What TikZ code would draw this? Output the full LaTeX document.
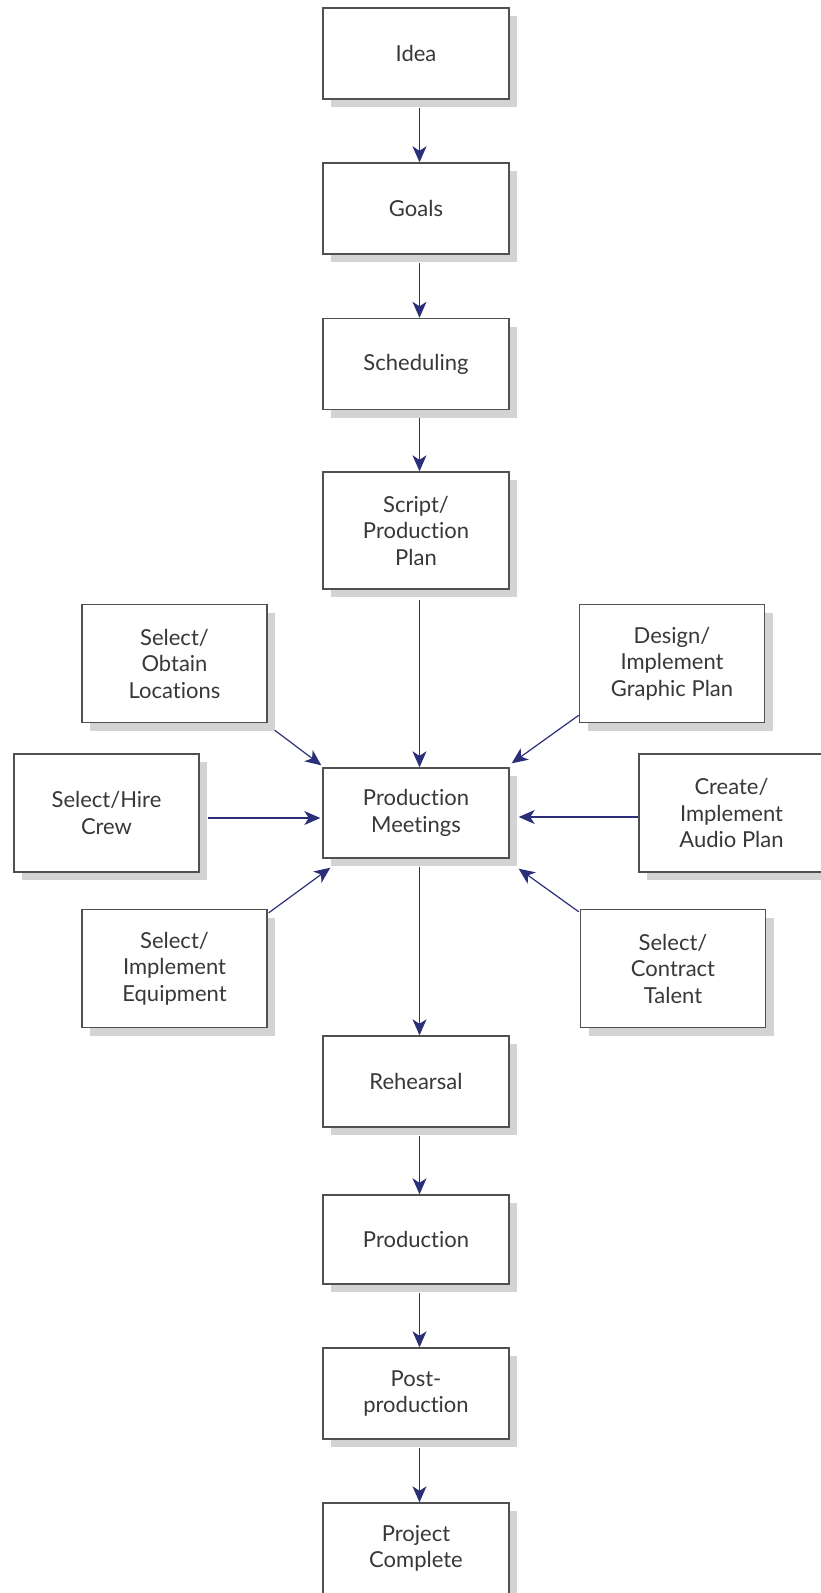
\documentclass[tikz,border=0pt]{standalone}
\usepackage{fontspec}
\setmainfont{Lato}[Ligatures={NoCommon,NoRequired,NoContextual}]
\usetikzlibrary{arrows.meta,shadows}
\definecolor{navy}{HTML}{2B2F78}
\definecolor{shadowgray}{HTML}{D3D3D3}
\definecolor{boxline}{HTML}{505050}
\definecolor{txt}{HTML}{383838}
\begin{document}
\begin{tikzpicture}[x=1pt,y=-1pt,
  box/.style={draw=boxline, line width=1.4pt, fill=white, align=center,
    font=\fontsize{22}{26.5}\selectfont, text=txt, inner sep=0pt,
    drop shadow={shadow xshift=8pt, shadow yshift=-8pt, fill=shadowgray, opacity=1}},
  mainbox/.style={box, minimum width=186pt, minimum height=91pt},
  sidebox/.style={box, minimum width=185pt, minimum height=118pt},
  arr/.style={draw=navy, line width=1.2pt, -{Stealth[length=16pt, width=14pt, inset=4.5pt]}, color=navy}]
\useasboundingbox (0,0) rectangle (820,1593);
% main column
\node[mainbox] (idea) at (416,53.5) {Idea};
\node[mainbox] (goals) at (416,208.5) {Goals};
\node[mainbox] (sched) at (416,364) {Scheduling};
\node[mainbox, minimum height=117pt] (script) at (416,530.5) {Script/\\Production\\Plan};
\node[mainbox, minimum height=90pt] (pm) at (416,813) {Production\\Meetings};
\node[mainbox] (reh) at (416,1081.5) {Rehearsal};
\node[mainbox, minimum height=89pt] (prod) at (416,1239.5) {Production};
\node[mainbox] (post) at (416,1393.5) {Post-\\production};
\node[mainbox] (done) at (416,1548.5) {Project\\Complete};
% side boxes
\node[sidebox] (loc) at (174.5,663.5) {Select/\\Obtain\\Locations};
\node[sidebox] (crew) at (106.5,813) {Select/Hire\\Crew};
\node[sidebox] (equip) at (174.5,968.5) {Select/\\Implement\\Equipment};
\node[sidebox] (graph) at (672,663.5) {Design/\\Implement\\Graphic Plan};
\node[sidebox] (audio) at (731.5,813) {Create/\\Implement\\Audio Plan};
\node[sidebox] (talent) at (673,968.5) {Select/\\Contract\\Talent};
% vertical arrows
\draw[arr] ([shift={(3.5,8)}]idea.south) -- ([xshift=3.5pt]goals.north);
\draw[arr] ([shift={(3.5,8)}]goals.south) -- ([xshift=3.5pt]sched.north);
\draw[arr] ([shift={(3.5,8)}]sched.south) -- ([xshift=3.5pt]script.north);
\draw[arr] ([shift={(3.5,10)}]script.south) -- ([xshift=3.5pt]pm.north);
\draw[arr] ([shift={(3.5,8)}]pm.south) -- ([xshift=3.5pt]reh.north);
\draw[arr] ([shift={(3.5,8)}]reh.south) -- ([xshift=3.5pt]prod.north);
\draw[arr] ([shift={(3.5,8)}]prod.south) -- ([xshift=3.5pt]post.north);
\draw[arr] ([shift={(3.5,8)}]post.south) -- ([xshift=3.5pt]done.north);
% side arrows
\draw[arr] ([shift={(7,7)}]loc.south east) -- ([shift={(-1,-2)}]pm.north west);
\draw[arr] ([shift={(8,5)}]crew.east) -- ([shift={(-2,5)}]pm.west);
\draw[arr] ([shift={(1,4)}]equip.north east) -- ([shift={(8,9)}]pm.south west);
\draw[arr] ([shift={(0,-8)}]graph.south west) -- ([shift={(2,-4)}]pm.north east);
\draw[arr] ([shift={(0,4)}]audio.west) -- ([shift={(9,4)}]pm.east);
\draw[arr] ([shift={(-1,3)}]talent.north west) -- ([shift={(9,10)}]pm.south east);
\end{tikzpicture}
\end{document}
